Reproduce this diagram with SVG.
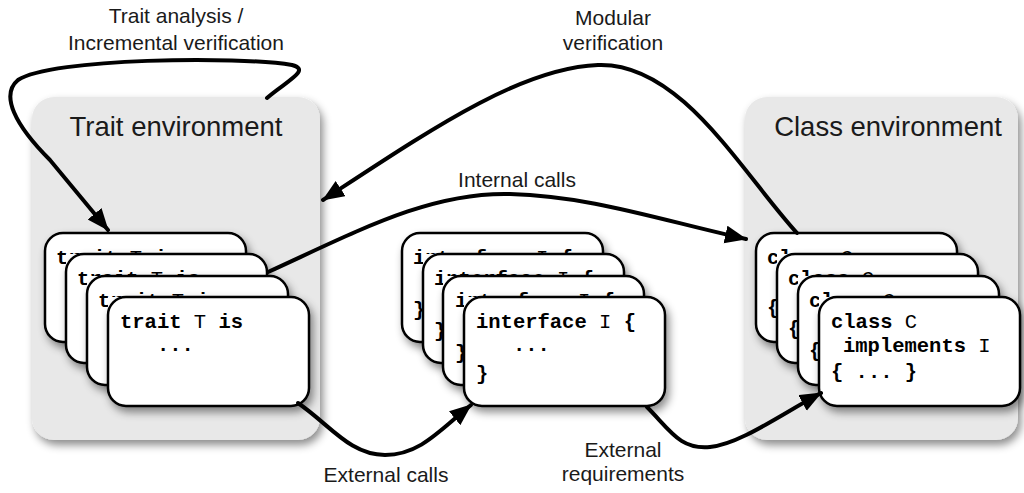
<svg xmlns="http://www.w3.org/2000/svg" width="1024" height="493" viewBox="0 0 1024 493">
<defs>
<filter id="sh" x="-10%" y="-10%" width="130%" height="130%">
<feDropShadow dx="3" dy="5" stdDeviation="4" flood-color="#000" flood-opacity="0.45"/>
</filter>
<marker id="arr" markerUnits="userSpaceOnUse" markerWidth="24" markerHeight="20" refX="21" refY="9" orient="auto" viewBox="0 0 24 20">
<path d="M0,0 L22,9 L0,18 z" fill="#000"/>
</marker>
<clipPath id="c1"><path clip-rule="evenodd" d="M45,233 h201 v109 h-201 z M66,254 h201 v109 h-201 z"/></clipPath>
<clipPath id="c2"><path clip-rule="evenodd" d="M66,254 h201 v109 h-201 z M87,276 h201 v109 h-201 z"/></clipPath>
<clipPath id="c3"><path clip-rule="evenodd" d="M87,276 h201 v109 h-201 z M108,297 h201 v109 h-201 z"/></clipPath>
<clipPath id="i1"><path clip-rule="evenodd" d="M402,233 h201 v109 h-201 z M423,254 h201 v109 h-201 z"/></clipPath>
<clipPath id="i2"><path clip-rule="evenodd" d="M423,254 h201 v109 h-201 z M443,276 h201 v109 h-201 z"/></clipPath>
<clipPath id="i3"><path clip-rule="evenodd" d="M443,276 h201 v109 h-201 z M464,297 h201 v109 h-201 z"/></clipPath>
<clipPath id="k1"><path clip-rule="evenodd" d="M756,233 h201 v109 h-201 z M777,254 h201 v109 h-201 z"/></clipPath>
<clipPath id="k2"><path clip-rule="evenodd" d="M777,254 h201 v109 h-201 z M798,276 h201 v109 h-201 z"/></clipPath>
<clipPath id="k3"><path clip-rule="evenodd" d="M798,276 h201 v109 h-201 z M819,297 h201 v109 h-201 z"/></clipPath>
<style>
.panel{fill:#e8e8e8;filter:url(#sh);}
.card{fill:#fff;stroke:#000;stroke-width:2.5;filter:url(#sh);}
.title{font-family:"Liberation Sans",Arial,sans-serif;font-size:27.5px;fill:#1a1a1a;text-anchor:middle;}
.lbl{font-family:"Liberation Sans",Arial,sans-serif;font-size:21px;fill:#1a1a1a;text-anchor:middle;}
.code{font-family:"Liberation Mono","Courier New",monospace;font-size:20.5px;fill:#000;white-space:pre;}
.kw{font-weight:bold;}
.conn{fill:none;stroke:#000;stroke-width:4;stroke-linecap:round;}
</style>
</defs>
<rect width="1024" height="493" fill="#fff"/>

<g id="trait-env">
<rect class="panel" x="32" y="97" width="288" height="343" rx="22"/>
<text class="title" x="176" y="136">Trait environment</text>
</g>
<g id="class-env">
<rect class="panel" x="745" y="97" width="273" height="343" rx="22"/>
<text class="title" x="888" y="136">Class environment</text>
</g>

<g id="trait-cards">
<g id="trait1"><rect class="card" x="45" y="233" width="201" height="109" rx="18"/>
<text class="code" clip-path="url(#c1)" x="56" y="264"><tspan class="kw">trait</tspan> T <tspan class="kw">is</tspan></text></g>
<g id="trait2"><rect class="card" x="66" y="254" width="201" height="109" rx="18"/>
<text class="code" clip-path="url(#c2)" x="77" y="285"><tspan class="kw">trait</tspan> T <tspan class="kw">is</tspan></text></g>
<g id="trait3"><rect class="card" x="87" y="276" width="201" height="109" rx="18"/>
<text class="code" clip-path="url(#c3)" x="98" y="307"><tspan class="kw">trait</tspan> T <tspan class="kw">is</tspan></text></g>
<g id="trait4"><rect class="card" x="108" y="297" width="201" height="109" rx="18"/>
<text class="code" x="120" y="328"><tspan class="kw">trait</tspan> T <tspan class="kw">is</tspan></text>
<text class="code kw" x="157" y="351">...</text></g>
</g>

<g id="interface-cards">
<g id="iface1"><rect class="card" x="402" y="233" width="201" height="109" rx="18"/>
<g clip-path="url(#i1)"><text class="code" x="413" y="264"><tspan class="kw">interface</tspan> I <tspan class="kw">{</tspan></text>
<text class="code kw" x="413" y="316">}</text></g></g>
<g id="iface2"><rect class="card" x="423" y="254" width="201" height="109" rx="18"/>
<g clip-path="url(#i2)"><text class="code" x="434" y="285"><tspan class="kw">interface</tspan> I <tspan class="kw">{</tspan></text>
<text class="code kw" x="434" y="337">}</text></g></g>
<g id="iface3"><rect class="card" x="443" y="276" width="201" height="109" rx="18"/>
<g clip-path="url(#i3)"><text class="code" x="455" y="307"><tspan class="kw">interface</tspan> I <tspan class="kw">{</tspan></text>
<text class="code kw" x="455" y="359">}</text></g></g>
<g id="iface4"><rect class="card" x="464" y="297" width="201" height="109" rx="18"/>
<text class="code" x="476" y="328"><tspan class="kw">interface</tspan> I <tspan class="kw">{</tspan></text>
<text class="code kw" x="513" y="351">...</text>
<text class="code kw" x="476" y="380">}</text></g>
</g>

<g id="class-cards">
<g id="class1"><rect class="card" x="756" y="233" width="201" height="109" rx="18"/>
<g clip-path="url(#k1)"><text class="code" x="767" y="264"><tspan class="kw">class</tspan> C</text>
<text class="code" x="779" y="288"><tspan class="kw">implements</tspan> I</text>
<text class="code kw" x="767" y="314">{ ... }</text></g></g>
<g id="class2"><rect class="card" x="777" y="254" width="201" height="109" rx="18"/>
<g clip-path="url(#k2)"><text class="code" x="788" y="285"><tspan class="kw">class</tspan> C</text>
<text class="code" x="800" y="309"><tspan class="kw">implements</tspan> I</text>
<text class="code kw" x="788" y="335">{ ... }</text></g></g>
<g id="class3"><rect class="card" x="798" y="276" width="201" height="109" rx="18"/>
<g clip-path="url(#k3)"><text class="code" x="809" y="307"><tspan class="kw">class</tspan> C</text>
<text class="code" x="821" y="331"><tspan class="kw">implements</tspan> I</text>
<text class="code kw" x="809" y="357">{ ... }</text></g></g>
<g id="class4"><rect class="card" x="819" y="297" width="201" height="109" rx="18"/>
<text class="code" x="831" y="328"><tspan class="kw">class</tspan> C</text>
<text class="code" x="843" y="352"><tspan class="kw">implements</tspan> I</text>
<text class="code kw" x="831" y="378">{ ... }</text></g>
</g>

<g id="connectors">
<path class="conn" marker-end="url(#arr)" d="M267,98 C285,82 312,70 292,65 C240,56 50,58 18,80 C0,95 15,125 50,160 L108,230"/>
<path class="conn" marker-end="url(#arr)" d="M797,233 C740,170 680,62 598,65 C520,68 430,130 323,200"/>
<path class="conn" marker-end="url(#arr)" d="M268,272 C360,230 430,192 510,194 C590,196 660,220 746,239"/>
<path class="conn" marker-end="url(#arr)" d="M298,403 C330,425 350,455 385,455 C420,455 440,430 471,405"/>
<path class="conn" marker-end="url(#arr)" d="M647,407 C670,430 680,450 710,447 C740,444 780,415 821,393"/>
</g>

<g id="labels">
<text class="lbl" x="176" y="23">Trait analysis /</text>
<text class="lbl" x="176" y="50">Incremental verification</text>
<text class="lbl" x="613" y="25">Modular</text>
<text class="lbl" x="613" y="50">verification</text>
<text class="lbl" x="517" y="187">Internal calls</text>
<text class="lbl" x="386" y="482">External calls</text>
<text class="lbl" x="623" y="457">External</text>
<text class="lbl" x="623" y="481">requirements</text>
</g>
</svg>
